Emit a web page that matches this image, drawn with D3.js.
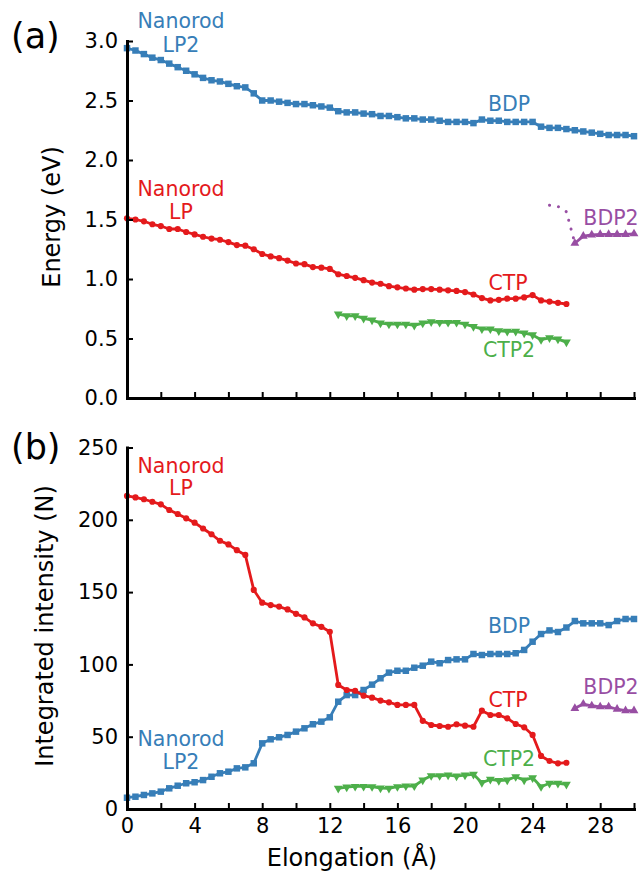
<!DOCTYPE html>
<html><head><meta charset="utf-8">
<script src="https://cdn.jsdelivr.net/npm/d3@7"></script>
<style>
body{margin:0;background:#fff}
svg{display:block}
text{font-family:"DejaVu Sans",sans-serif}
</style>
</head><body>
<svg id="chart" width="641" height="880"></svg>
<script>
// Elongation grids (Å)
const xFull = [0,0.5,1,1.5,2,2.5,3,3.5,4,4.5,5,5.5,6,6.5,7,7.5,8,8.5,9,9.5,10,10.5,11,11.5,12,12.5,13,13.5,14,14.5,15,15.5,16,16.5,17,17.5,18,18.5,19,19.5,20,20.5,21,21.5,22,22.5,23,23.5,24,24.5,25,25.5,26,26.5,27,27.5,28,28.5,29,29.5,30];
const xLP = [0,0.5,1,1.5,2,2.5,3,3.5,4,4.5,5,5.5,6,6.5,7,7.5,8,8.5,9,9.5,10,10.5,11,11.5,12,12.5,13,13.5,14,14.5,15,15.5,16,16.5,17,17.5,18,18.5,19,19.5,20,20.5,21,21.5,22,22.5,23,23.5,24,24.5,25,25.5,26];
const xCTP2 = [12.5,13,13.5,14,14.5,15,15.5,16,16.5,17,17.5,18,18.5,19,19.5,20,20.5,21,21.5,22,22.5,23,23.5,24,24.5,25,25.5,26];
const xBDP2 = [26.5,27,27.5,28,28.5,29,29.5,30];
const xBDP2Dotted = [25,25.5,26,26.5];

// (a) Energies (eV)
const energyLP2BDP = [2.94,2.92,2.89,2.86,2.84,2.81,2.78,2.75,2.72,2.69,2.67,2.66,2.64,2.62,2.61,2.56,2.50,2.50,2.49,2.48,2.47,2.47,2.46,2.45,2.44,2.41,2.40,2.40,2.39,2.385,2.37,2.37,2.36,2.35,2.35,2.34,2.34,2.33,2.32,2.32,2.32,2.31,2.34,2.33,2.33,2.32,2.32,2.32,2.32,2.28,2.27,2.27,2.26,2.25,2.24,2.23,2.22,2.21,2.21,2.21,2.20];
const energyLPCTP = [1.51,1.50,1.485,1.46,1.445,1.42,1.42,1.395,1.375,1.355,1.34,1.33,1.31,1.285,1.28,1.25,1.21,1.19,1.175,1.155,1.13,1.125,1.10,1.095,1.085,1.04,1.025,1.01,0.99,0.97,0.96,0.94,0.93,0.92,0.91,0.915,0.915,0.91,0.905,0.90,0.89,0.87,0.84,0.82,0.825,0.835,0.835,0.845,0.865,0.82,0.81,0.80,0.79];
const energyCTP2 = [0.705,0.69,0.69,0.67,0.655,0.63,0.62,0.62,0.62,0.61,0.63,0.64,0.635,0.635,0.635,0.62,0.60,0.58,0.58,0.565,0.56,0.56,0.545,0.53,0.49,0.505,0.495,0.47];
const energyBDP2 = [1.30,1.36,1.37,1.375,1.375,1.375,1.375,1.38];
const energyBDP2Dotted = [1.62,1.61,1.565,1.30];

// (b) Integrated intensities (N)
const intensityLP2BDP = [7.8,8.5,9.7,10.8,12,14.3,16.1,17.8,18.5,20,22.3,24.7,25.8,28.1,28.8,31.6,45.4,48.2,49.6,51.2,53.5,55.8,58.6,60.4,63.4,74.2,78.8,78.8,82.3,86,90.4,94.3,95.6,95.6,97.7,99.1,101.9,100.8,103,103.5,103.5,107.2,106.5,107.2,107.2,107.2,107.7,110,115.7,121,123.5,122.4,125.5,130,128.4,128.4,128.4,127.2,130,131.4,131.4];
const intensityLPCTP = [216.5,215.5,214.2,212.5,210.7,206.8,204,201,198,194,190,185.5,183,179,175.7,151.5,142.7,141,140,138,135,132.5,128.4,126,122.6,85.8,82.3,81.8,78.4,77,75,73.8,72,72,72,61,58.1,57.4,56.9,58.6,57.6,56.9,68,65,65,62.7,58.8,56.5,51.2,36.7,33.2,31.6,32];
const intensityCTP2 = [14.3,15.2,15.6,15.6,15.4,14.5,14.3,15.4,15.9,15.9,20,23,23,23.5,22.8,23.5,24,18.2,20.5,19.6,20,22.3,20,21.6,15.4,17.8,17.8,17.1];
const intensityBDP2 = [69.6,72.6,71.4,70.7,70.7,69,68,68];

// Axis ticks
const xTicks = [0,2,4,6,8,10,12,14,16,18,20,22,24,26,28,30];
const energyTicks = [0,0.5,1,1.5,2,2.5,3];
const intensityTicks = [0,50,100,150,200,250];

const colors = {blue:"#377eb8", red:"#e41a1c", green:"#4daf4a", purple:"#984ea3"};

const svg = d3.select("#chart");
const x = d3.scaleLinear().domain([0,30]).range([127,634]);
const yA = d3.scaleLinear().domain([0,3]).range([398,41]);
const yB = d3.scaleLinear().domain([0,250]).range([809,447.5]);

const zip = (xs, ys) => xs.map((v,i)=>[v, ys[i]]);

function drawSeries(g, y, xs, ys, color, symbolType, size, rotate){
  const pts = zip(xs, ys);
  const line = d3.line().x(d=>x(d[0])).y(d=>y(d[1]));
  g.append("path").datum(pts).attr("d", line)
    .attr("fill","none").attr("stroke",color).attr("stroke-width",2.8)
    .attr("stroke-linejoin","round");
  const sym = d3.symbol().type(symbolType).size(size);
  g.selectAll(null).data(pts).enter().append("path")
    .attr("d", sym)
    .attr("transform", d=>`translate(${x(d[0])},${y(d[1])})${rotate?` rotate(${rotate})`:""}`)
    .attr("fill", color);
}

function drawAxes(y, ticksY, fmtY, showXLabels){
  const gx = svg.append("g").attr("transform",`translate(0,${y.range()[0]})`)
    .call(d3.axisBottom(x).tickValues(xTicks).tickSizeInner(-6).tickSizeOuter(0).tickPadding(9)
      .tickFormat(d => showXLabels && d % 4 === 0 ? d : ""));
  const gy = svg.append("g").attr("transform",`translate(${x.range()[0]},0)`)
    .call(d3.axisLeft(y).tickValues(ticksY).tickSizeInner(-6).tickSizeOuter(0).tickPadding(9)
      .tickFormat(fmtY));
  [gx, gy].forEach(g => {
    g.select(".domain").attr("stroke","#000").attr("stroke-width",3).attr("stroke-linecap","square");
    g.selectAll(".tick line").attr("stroke","#000").attr("stroke-width",2);
    g.selectAll(".tick text").attr("fill","#000").style("font-size","21px")
      .style("font-family","'DejaVu Sans', sans-serif");
  });
}

function label(txt, cx, cy, color){
  svg.append("text").attr("x",cx).attr("y",cy).attr("text-anchor","middle")
    .attr("dominant-baseline","central").attr("fill",color)
    .style("font-size","20.5px").text(txt);
}

// Panel (a)
const gA = svg.append("g");
gA.append("path").datum(zip(xBDP2Dotted, energyBDP2Dotted))
  .attr("d", d3.line().x(d=>x(d[0])).y(d=>yA(d[1])))
  .attr("fill","none").attr("stroke",colors.purple).attr("stroke-width",3)
  .attr("stroke-dasharray","0.1,9").attr("stroke-linecap","round");
drawSeries(gA, yA, xFull, energyLP2BDP, colors.blue, d3.symbolSquare, 42);
drawSeries(gA, yA, xLP, energyLPCTP, colors.red, d3.symbolCircle, 30);
drawSeries(gA, yA, xCTP2, energyCTP2, colors.green, d3.symbolTriangle, 34, 180);
drawSeries(gA, yA, xBDP2, energyBDP2, colors.purple, d3.symbolTriangle, 34);
drawAxes(yA, energyTicks, d3.format(".1f"), false);

// Panel (b)
const gB = svg.append("g");
drawSeries(gB, yB, xFull, intensityLP2BDP, colors.blue, d3.symbolSquare, 42);
drawSeries(gB, yB, xLP, intensityLPCTP, colors.red, d3.symbolCircle, 30);
drawSeries(gB, yB, xCTP2, intensityCTP2, colors.green, d3.symbolTriangle, 34, 180);
drawSeries(gB, yB, xBDP2, intensityBDP2, colors.purple, d3.symbolTriangle, 34);
drawAxes(yB, intensityTicks, d3.format("d"), true);

// Series annotations
label("Nanorod", 181, 21, colors.blue);
label("LP2", 181, 45, colors.blue);
label("BDP", 509, 104, colors.blue);
label("Nanorod", 181, 189, colors.red);
label("LP", 181, 212, colors.red);
label("CTP", 508, 283, colors.red);
label("BDP2", 611, 218, colors.purple);
label("CTP2", 509, 350, colors.green);

label("Nanorod", 181, 466, colors.red);
label("LP", 181, 488, colors.red);
label("BDP", 509, 626, colors.blue);
label("Nanorod", 181, 739, colors.blue);
label("LP2", 181, 762, colors.blue);
label("CTP", 508, 700, colors.red);
label("BDP2", 611, 687, colors.purple);
label("CTP2", 509, 759, colors.green);

// Panel tags
svg.append("text").attr("x",11).attr("y",48).style("font-size","35px").attr("fill","#000").text("(a)");
svg.append("text").attr("x",11).attr("y",459).style("font-size","35px").attr("fill","#000").text("(b)");

// Axis titles
svg.append("text").attr("transform","translate(52,217) rotate(-90)")
  .attr("text-anchor","middle").attr("dominant-baseline","central")
  .style("font-size","24px").attr("fill","#000").text("Energy (eV)");
svg.append("text").attr("transform","translate(45,626) rotate(-90)")
  .attr("text-anchor","middle").attr("dominant-baseline","central")
  .style("font-size","24px").attr("fill","#000").text("Integrated intensity (N)");
svg.append("text").attr("x",352).attr("y",858)
  .attr("text-anchor","middle").attr("dominant-baseline","central")
  .style("font-size","24px").attr("fill","#000").text("Elongation (Å)");
</script>
</body></html>
